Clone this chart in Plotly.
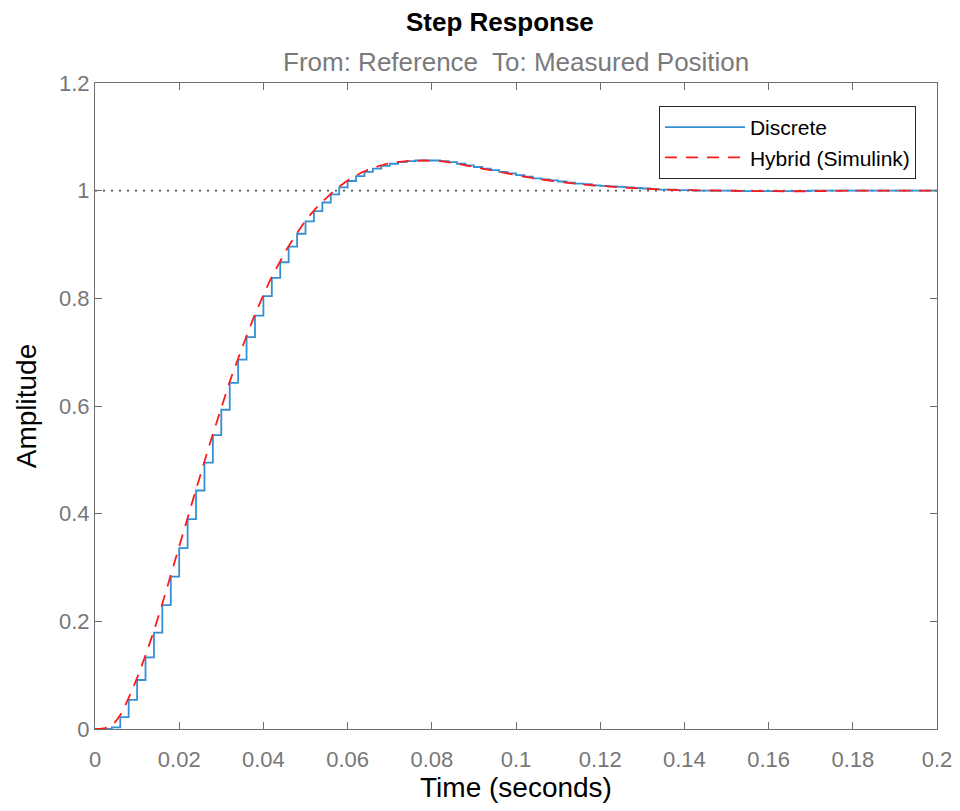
import plotly.graph_objects as go

# ---- data ----
t_discrete = [0.000, 0.002, 0.004, 0.006, 0.008, 0.010, 0.012, 0.014, 0.016, 0.018,
              0.020, 0.022, 0.024, 0.026, 0.028, 0.030, 0.032, 0.034, 0.036, 0.038,
              0.040, 0.042, 0.044, 0.046, 0.048, 0.050, 0.052, 0.054, 0.056, 0.058,
              0.060, 0.062, 0.064, 0.066, 0.068, 0.070, 0.072, 0.074, 0.076, 0.078,
              0.080, 0.082, 0.084, 0.086, 0.088, 0.090, 0.092, 0.094, 0.096, 0.098,
              0.100, 0.102, 0.104, 0.106, 0.108, 0.110, 0.112, 0.114, 0.116, 0.118,
              0.120, 0.122, 0.124, 0.126, 0.128, 0.130, 0.132, 0.134, 0.136, 0.138,
              0.140, 0.142, 0.144, 0.146, 0.148, 0.150, 0.152, 0.154, 0.156, 0.158,
              0.160, 0.162, 0.164, 0.166, 0.168, 0.170, 0.172, 0.174, 0.176, 0.178,
              0.180, 0.182, 0.184, 0.186, 0.188, 0.190, 0.192, 0.194, 0.196, 0.198,
              0.200]
y_discrete = [0.000, 0.000, 0.003, 0.022, 0.054, 0.091, 0.133, 0.179, 0.230, 0.283,
              0.336, 0.390, 0.443, 0.495, 0.546, 0.593, 0.643, 0.686, 0.728, 0.768,
              0.804, 0.838, 0.867, 0.896, 0.920, 0.943, 0.962, 0.978, 0.993, 1.006,
              1.018, 1.027, 1.035, 1.041, 1.046, 1.050, 1.053, 1.055, 1.056, 1.056,
              1.056, 1.055, 1.053, 1.050, 1.047, 1.044, 1.041, 1.038, 1.035, 1.032,
              1.029, 1.026, 1.023, 1.021, 1.019, 1.017, 1.015, 1.013, 1.012, 1.010,
              1.009, 1.008, 1.007, 1.006, 1.005, 1.004, 1.003, 1.002, 1.002, 1.001,
              1.001, 1.000, 1.000, 1.000, 1.000, 1.000, 0.999, 0.999, 0.999, 0.999,
              0.999, 0.999, 0.999, 0.999, 0.999, 1.000, 1.000, 1.000, 1.000, 1.000,
              1.000, 1.000, 1.000, 1.000, 1.000, 1.000, 1.000, 1.000, 1.000, 1.000,
              1.000]

t_hybrid = [0.000, 0.002, 0.004, 0.006, 0.008, 0.010, 0.012, 0.014, 0.016, 0.018,
            0.020, 0.022, 0.024, 0.026, 0.028, 0.030, 0.032, 0.034, 0.036, 0.038,
            0.040, 0.042, 0.044, 0.046, 0.048, 0.050, 0.052, 0.054, 0.056, 0.058,
            0.060, 0.062, 0.064, 0.066, 0.068, 0.070, 0.074, 0.078, 0.082, 0.086,
            0.090, 0.094, 0.098, 0.102, 0.106, 0.110, 0.115, 0.120, 0.125, 0.130,
            0.135, 0.140, 0.150, 0.160, 0.170, 0.180, 0.190, 0.200]
y_hybrid = [0.000, 0.001, 0.007, 0.026, 0.058, 0.095, 0.137, 0.183, 0.233, 0.286,
            0.339, 0.392, 0.445, 0.497, 0.548, 0.596, 0.645, 0.688, 0.730, 0.770,
            0.806, 0.840, 0.869, 0.897, 0.921, 0.944, 0.963, 0.979, 0.994, 1.007,
            1.019, 1.028, 1.036, 1.042, 1.047, 1.051, 1.055, 1.056, 1.055, 1.050,
            1.044, 1.038, 1.032, 1.026, 1.021, 1.017, 1.012, 1.009, 1.006, 1.004,
            1.002, 1.001, 1.000, 0.999, 0.999, 1.000, 1.000, 1.000]

steady_state = 1.0
x_ticks = [0, 0.02, 0.04, 0.06, 0.08, 0.1, 0.12, 0.14, 0.16, 0.18, 0.2]
x_tick_labels = ["0", "0.02", "0.04", "0.06", "0.08", "0.1", "0.12", "0.14", "0.16", "0.18", "0.2"]
y_ticks = [0, 0.2, 0.4, 0.6, 0.8, 1.0, 1.2]
y_tick_labels = ["0", "0.2", "0.4", "0.6", "0.8", "1", "1.2"]

FONT = "Liberation Sans, Arial, sans-serif"
AX = "#6e6e6e"

fig = go.Figure()
fig.add_trace(go.Scatter(
    x=t_discrete, y=y_discrete, name="Discrete", mode="lines",
    line=dict(color="#3390d6", width=1.8, shape="hv"),
))
fig.add_trace(go.Scatter(
    x=t_hybrid, y=y_hybrid, name="Hybrid (Simulink)", mode="lines",
    line=dict(color="#ff1a1a", width=1.8, dash="12px,9px", shape="spline"),
))

fig.add_shape(type="line", xref="x", yref="y", x0=0, x1=0.2,
              y0=steady_state, y1=steady_state, layer="below",
              line=dict(color="#555555", width=1.6, dash="2px,6px"))

# page body has an 8px margin; plot area placed at window px 95..937 x 83..729
fig.update_layout(
    width=952, height=795,
    margin=dict(l=87, r=23, t=75, b=74, autoexpand=False),
    paper_bgcolor="white", plot_bgcolor="white",
    font=dict(family=FONT, size=22, color="#000000"),
    showlegend=True,
    legend=dict(
        x=0.975, y=0.9644, xanchor="right", yanchor="top",
        bgcolor="white", bordercolor="#262626", borderwidth=1,
        font=dict(family=FONT, size=21, color="#000000"),
        tracegroupgap=0, itemwidth=80,
    ),
    annotations=[
        dict(text="<b>Step Response</b>", xref="paper", yref="paper",
             x=0.481, y=1.0944, xanchor="center", yanchor="middle", showarrow=False,
             font=dict(family=FONT, size=26, color="#000000")),
        dict(text="From: Reference  To: Measured Position", xref="paper", yref="paper",
             x=0.5, y=1.0325, xanchor="center", yanchor="middle", showarrow=False,
             font=dict(family=FONT, size=26, color="#7a7a7a")),
    ],
)

fig.update_xaxes(
    range=[0, 0.2], tickvals=x_ticks, ticktext=x_tick_labels, automargin=False,
    showgrid=False, zeroline=False, showline=True, linecolor=AX, linewidth=1.2,
    mirror="ticks", ticks="inside", ticklen=7, tickcolor=AX, tickwidth=1.2,
    ticklabelstandoff=10, ticklabeloverflow="allow",
    tickfont=dict(family=FONT, size=22, color="#777777"),
    title=dict(text="Time (seconds)", font=dict(family=FONT, size=28, color="#000000"), standoff=19),
)
fig.update_yaxes(
    range=[0, 1.2], tickvals=y_ticks, ticktext=y_tick_labels, automargin=False,
    showgrid=False, zeroline=False, showline=True, linecolor=AX, linewidth=1.2,
    mirror="ticks", ticks="inside", ticklen=7, tickcolor=AX, tickwidth=1.2,
    tickfont=dict(family=FONT, size=22, color="#777777"),
    title=dict(text="Amplitude", font=dict(family=FONT, size=28, color="#000000"), standoff=14),
)

fig.write_html("out.html")
